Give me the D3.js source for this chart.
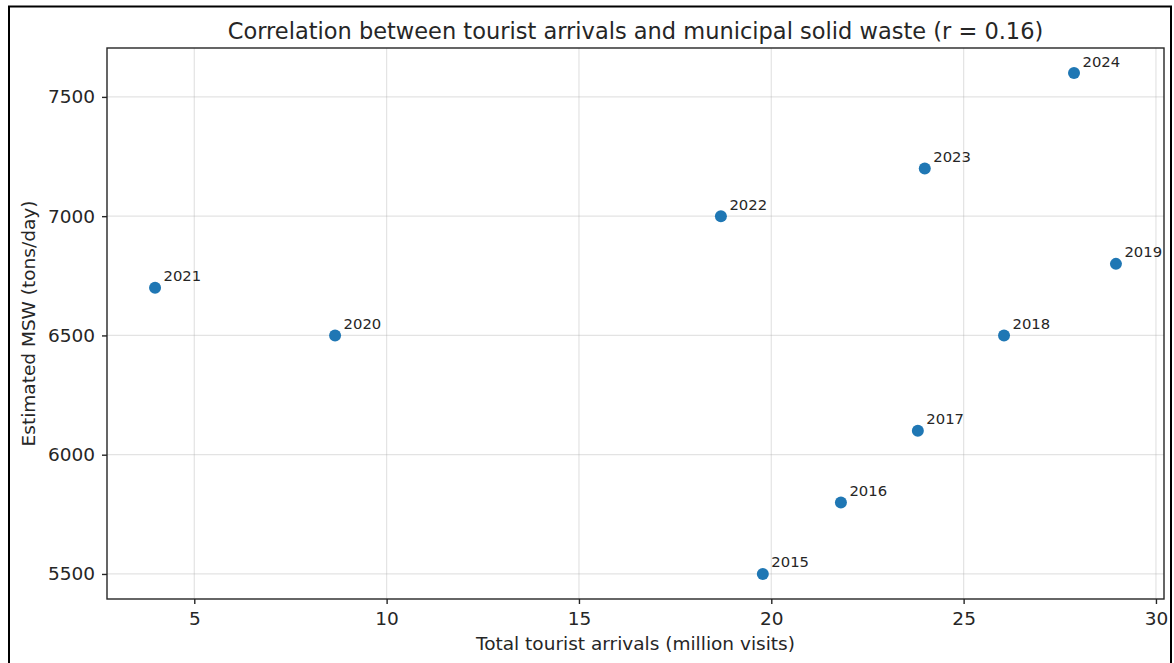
<!DOCTYPE html>
<html>
<head>
<meta charset="utf-8">
<script src="https://cdn.jsdelivr.net/npm/d3@7"></script>
<style>
  html, body { margin: 0; padding: 0; background: #fff; }
  svg { display: block; }
</style>
</head>
<body>
<svg id="chart" width="1174" height="663"></svg>
<script>
// Yearly observations
const years = [2015, 2016, 2017, 2018, 2019, 2020, 2021, 2022, 2023, 2024];
const arrivals = [19.78, 21.81, 23.81, 26.05, 28.96, 8.66, 3.98, 18.69, 23.99, 27.87]; // million visits
const msw = [5500, 5800, 6100, 6500, 6800, 6500, 6700, 7000, 7200, 7600];             // tons/day
const xTicks = [5, 10, 15, 20, 25, 30];
const yTicks = [5500, 6000, 6500, 7000, 7500];

const W = 1174, H = 663;
const margin = { left: 107, right: W - 1164, top: 48, bottom: H - 599 };
const svg = d3.select("#chart");
const font = "'DejaVu Sans', sans-serif";
const ink = "#262626";

// page frame around the figure
svg.append("path")
  .attr("d", `M9,${H} V6.5 H1171 V${H}`)
  .attr("fill", "none").attr("stroke", "#000").attr("stroke-width", 2);

// 5% padding around the data range
const xmin = d3.min(arrivals), xmax = d3.max(arrivals);
const ymin = d3.min(msw), ymax = d3.max(msw);
const xPad = (xmax - xmin) * 0.05, yPad = (ymax - ymin) * 0.05;

const x = d3.scaleLinear()
  .domain([xmin - xPad, xmax + xPad])
  .range([margin.left, W - margin.right]);
const y = d3.scaleLinear()
  .domain([ymin - yPad, ymax + yPad])
  .range([H - margin.bottom, margin.top]);

// grid
const grid = svg.append("g")
  .attr("stroke", "#b0b0b0").attr("stroke-opacity", 0.35).attr("stroke-width", 1.2);
grid.selectAll("line.vx").data(xTicks).join("line")
  .attr("x1", d => x(d)).attr("x2", d => x(d))
  .attr("y1", margin.top).attr("y2", H - margin.bottom);
grid.selectAll("line.hy").data(yTicks).join("line")
  .attr("y1", d => y(d)).attr("y2", d => y(d))
  .attr("x1", margin.left).attr("x2", W - margin.right);

// axes
const xAxis = d3.axisBottom(x).tickValues(xTicks).tickSize(5).tickPadding(8).tickFormat(d3.format("d"));
const yAxis = d3.axisLeft(y).tickValues(yTicks).tickSize(5).tickPadding(7).tickFormat(d3.format("d"));

const gx = svg.append("g").attr("transform", `translate(0,${H - margin.bottom})`).call(xAxis);
const gy = svg.append("g").attr("transform", `translate(${margin.left},0)`).call(yAxis);
[gx, gy].forEach(g => {
  g.select(".domain").remove();
  g.selectAll(".tick line").attr("stroke", ink).attr("stroke-width", 1.4);
  g.selectAll(".tick text").attr("font-family", font).attr("font-size", 18.5).attr("fill", ink);
});

// axes frame
svg.append("rect")
  .attr("x", margin.left).attr("y", margin.top)
  .attr("width", W - margin.left - margin.right)
  .attr("height", H - margin.top - margin.bottom)
  .attr("fill", "none").attr("stroke", ink).attr("stroke-width", 1.4);

// points with year labels
const data = years.map((yr, i) => ({ year: yr, a: arrivals[i], w: msw[i] }));
svg.append("g").selectAll("circle").data(data).join("circle")
  .attr("cx", d => x(d.a)).attr("cy", d => y(d.w))
  .attr("r", 6).attr("fill", "#1f77b4");

svg.append("g").selectAll("text").data(data).join("text")
  .attr("x", d => x(d.a) + 8.5).attr("y", d => y(d.w) - 6.5)
  .attr("font-family", font).attr("font-size", 14.8).attr("fill", ink)
  .text(d => d.year);

// titles
const cx = (margin.left + W - margin.right) / 2;
svg.append("text")
  .attr("x", cx).attr("y", 39)
  .attr("text-anchor", "middle")
  .attr("font-family", font).attr("font-size", 22.5).attr("fill", ink)
  .text("Correlation between tourist arrivals and municipal solid waste (r = 0.16)");
svg.append("text")
  .attr("x", cx).attr("y", 650)
  .attr("text-anchor", "middle")
  .attr("font-family", font).attr("font-size", 18.5).attr("fill", ink)
  .text("Total tourist arrivals (million visits)");
svg.append("text")
  .attr("transform", `translate(35,${(margin.top + H - margin.bottom) / 2}) rotate(-90)`)
  .attr("text-anchor", "middle")
  .attr("font-family", font).attr("font-size", 18.5).attr("fill", ink)
  .text("Estimated MSW (tons/day)");
</script>
</body>
</html>
